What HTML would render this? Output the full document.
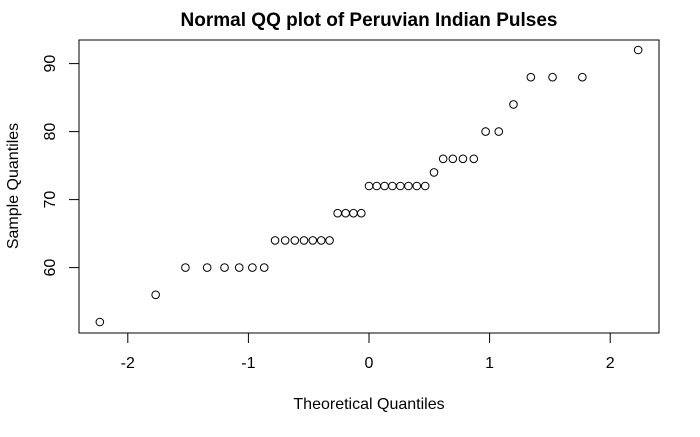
<!DOCTYPE html>
<html><head><meta charset="utf-8"><style>
body{margin:0;background:#fff;}
svg text{font-family:"Liberation Sans",Arial,sans-serif;fill:#000;}
</style></head><body>
<svg id="chart" width="700" height="432" viewBox="0 0 700 432">
<rect width="700" height="432" fill="#fff"/>
<text x="369" y="26" font-size="19" font-weight="bold" text-anchor="middle">Normal QQ plot of Peruvian Indian Pulses</text>
<rect x="79" y="40" width="580" height="293" fill="none" stroke="#000" stroke-width="1"/>
<g id="xaxis"></g>
<g id="yaxis"></g>
<text x="369" y="409" font-size="16" text-anchor="middle">Theoretical Quantiles</text>
<text transform="translate(18,186) rotate(-90)" font-size="16" text-anchor="middle">Sample Quantiles</text>
<g id="points"></g>
</svg>
<script>
const theoretical=[-2.232,-1.769,-1.522,-1.342,-1.198,-1.076,-0.967,-0.869,-0.779,-0.695,-0.615,-0.539,-0.466,-0.396,-0.327,-0.260,-0.194,-0.129,-0.064,0,0.064,0.129,0.194,0.260,0.327,0.396,0.466,0.539,0.615,0.695,0.779,0.869,0.967,1.076,1.198,1.342,1.522,1.769,2.232];
const sample=[52,56,60,60,60,60,60,60,64,64,64,64,64,64,64,68,68,68,68,72,72,72,72,72,72,72,72,74,76,76,76,76,80,80,84,88,88,88,92];
const xTicks=[-2,-1,0,1,2];
const yTicks=[60,70,80,90];
const NS="http://www.w3.org/2000/svg";
function xs(v){return 369+v*120.6;}
function ys(v){return 322-(v-52)*6.8;}
function mk(t,a,p){const e=document.createElementNS(NS,t);for(const k in a)e.setAttribute(k,a[k]);p.appendChild(e);return e;}
const xa=document.getElementById('xaxis');
mk('line',{x1:xs(xTicks[0]),x2:xs(xTicks[xTicks.length-1]),y1:333,y2:333,stroke:'#000'},xa);
xTicks.forEach(t=>{
  const l=mk('line',{x1:xs(t),x2:xs(t),y1:333,y2:343,stroke:'#000'},xa);
  
  
  const tx=mk('text',{x:xs(t),y:368,'font-size':16,'text-anchor':'middle'},xa);
  tx.textContent=t;
  
  
});
const ya=document.getElementById('yaxis');
mk('line',{x1:79,x2:79,y1:ys(yTicks[0]),y2:ys(yTicks[yTicks.length-1]),stroke:'#000'},ya);
yTicks.forEach(t=>{
  const l=mk('line',{x1:69,x2:79,y1:ys(t),y2:ys(t),stroke:'#000'},ya);
  
  
  const tx=mk('text',{transform:`translate(55,${ys(t)}) rotate(-90)`,'font-size':16,'text-anchor':'middle'},ya);
  tx.textContent=t;
  
  
});
const pg=document.getElementById('points');
theoretical.forEach((q,i)=>{
  const c=mk('circle',{cx:xs(q),cy:ys(sample[i]),r:3.8,fill:'none',stroke:'#000','stroke-width':1},pg);
  
  
});
</script>
</body></html>
